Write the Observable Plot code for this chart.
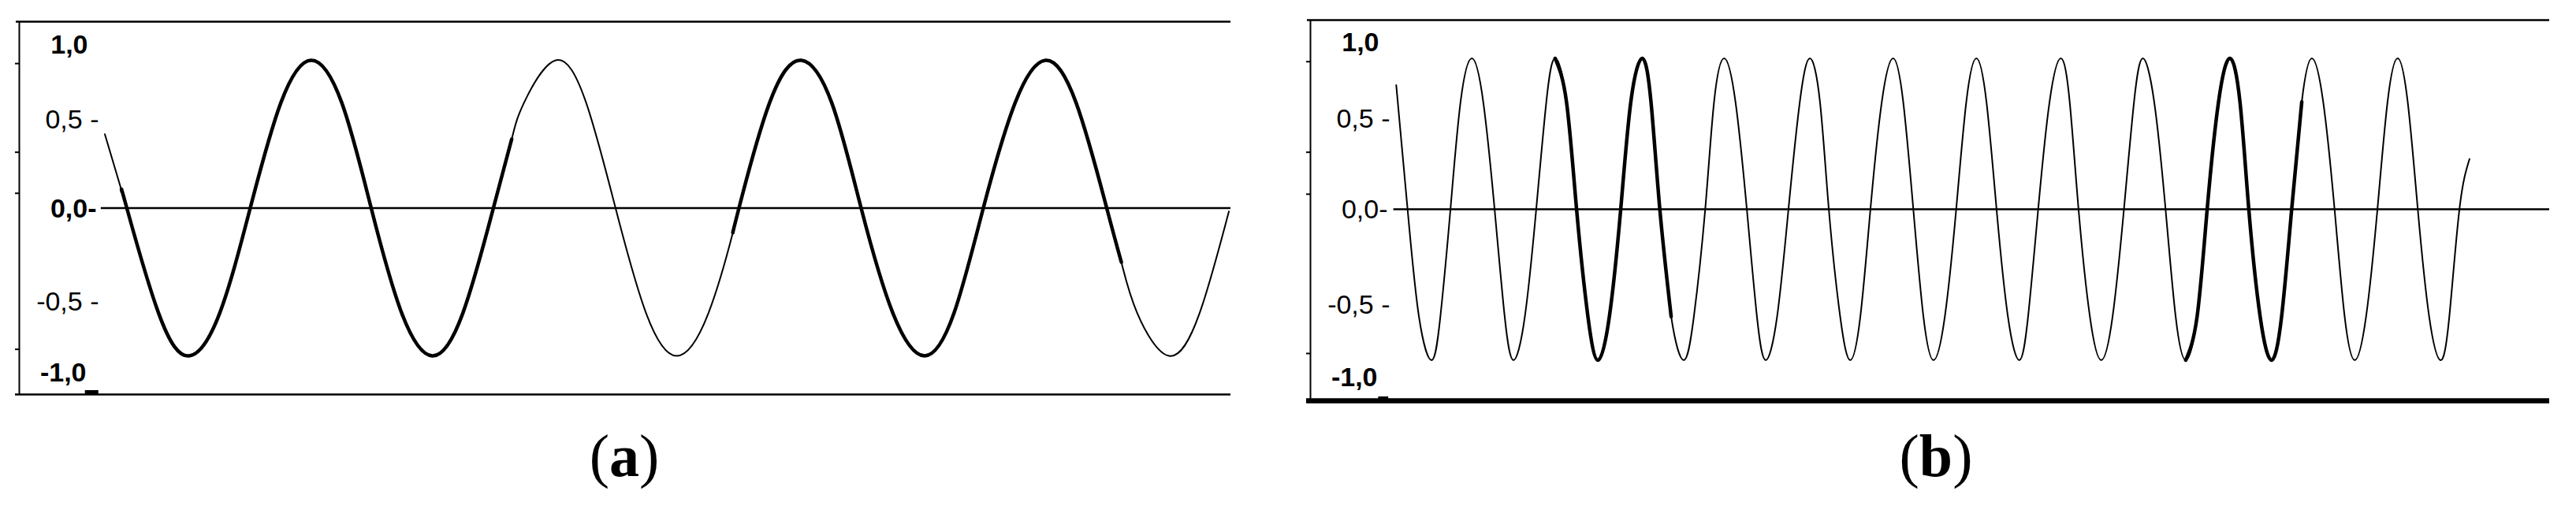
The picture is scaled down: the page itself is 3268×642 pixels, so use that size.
<!DOCTYPE html>
<html><head><meta charset="utf-8">
<script src="https://cdn.jsdelivr.net/npm/d3@7"></script>
<script src="https://cdn.jsdelivr.net/npm/@observablehq/plot@0.6"></script>
<style>
html,body{margin:0;padding:0;background:#fff;}
#root{position:relative;width:3268px;height:642px;overflow:hidden;background:#fff;}
.panel{position:absolute;top:0;}
.panel svg{display:block;max-width:none;}
.panel svg [aria-label="y-axis tick"]{stroke-width:2px;}
.cap{position:absolute;top:540px;font-family:"Liberation Serif","Times New Roman",serif;font-size:76px;line-height:76px;color:#000;white-space:nowrap;transform:translateX(-50%);}
</style></head>
<body><div id="root"></div>
<script>
// ---- data (time in ms, amplitude in relative units) ----
const waveA_t = [7.0, 8.4, 8.8, 11.4, 13.9, 16.4, 18.9, 21.4, 23.9, 26.4, 28.8, 31.3, 33.8, 36.3, 38.8, 40.3, 41.3, 43.9, 46.4, 48.8, 51.3, 53.8, 56.4, 58.4, 58.9, 61.4, 64.0, 66.5, 68.9, 71.5, 74.1, 76.5, 78.9, 81.5, 84.0, 86.5, 89.0, 90.2, 91.5, 94.1, 96.6, 99.0];
const waveA_v = [0.45, 0.10, 0, -0.64, -0.90, -0.64, 0, 0.64, 0.90, 0.64, 0, -0.64, -0.90, -0.64, 0, 0.42, 0.64, 0.90, 0.64, 0, -0.64, -0.90, -0.64, -0.15, 0, 0.64, 0.90, 0.64, 0, -0.64, -0.90, -0.64, 0, 0.64, 0.90, 0.64, 0, -0.33, -0.64, -0.90, -0.64, -0.02];
const thickA = [[8.4, 40.3], [58.4, 90.2]];

const waveB_t = [6.8, 7.7, 8.6, 9.6, 10.3, 11.1, 11.9, 12.8, 13.7, 14.6, 15.4, 16.1, 17.0, 17.9, 18.7, 19.4, 20.3, 21.1, 22.0, 22.8, 23.7, 24.6, 25.4, 26.3, 27.0, 27.7, 28.6, 29.6, 30.4, 31.3, 32.0, 32.8, 33.7, 34.6, 35.4, 36.1, 37.0, 37.9, 38.8, 39.6, 40.4, 41.1, 42.0, 42.8, 43.6, 44.4, 45.3, 46.2, 47.0, 47.8, 48.6, 49.4, 50.3, 51.2, 52.0, 52.8, 53.6, 54.4, 55.3, 56.2, 56.9, 57.7, 58.6, 59.5, 60.2, 60.9, 61.8, 62.7, 63.6, 64.5, 65.3, 66.0, 66.9, 67.8, 68.6, 69.4, 70.3, 71.1, 72.0, 72.9, 73.7, 74.4, 75.3, 76.2, 77.0, 77.8, 78.6, 79.4, 80.3, 81.2, 82.0, 82.8, 83.7, 84.6, 85.4, 86.2, 87.0, 87.8, 88.7, 89.6, 90.3, 91.1, 91.9, 92.8, 93.7, 94.6, 95.3, 96.1, 96.9, 97.8, 98.1];
const waveB_v = [0.74,
  0, -0.64, -0.9, -0.64, 0, 0.64, 0.9, 0.64,
  0, -0.64, -0.9, -0.64, 0, 0.64, 0.9, 0.64,
  0, -0.64, -0.9, -0.64, 0, 0.64, 0.9, 0.64,
  0, -0.64, -0.9, -0.64, 0, 0.64, 0.9, 0.64,
  0, -0.64, -0.9, -0.64, 0, 0.64, 0.9, 0.64,
  0, -0.64, -0.9, -0.64, 0, 0.64, 0.9, 0.64,
  0, -0.64, -0.9, -0.64, 0, 0.64, 0.9, 0.64,
  0, -0.64, -0.9, -0.64, 0, 0.64, 0.9, 0.64,
  0, -0.64, -0.9, -0.64, 0, 0.64, 0.9, 0.64,
  0, -0.64, -0.9, -0.64, 0, 0.64, 0.9, 0.64,
  0, -0.64, -0.9, -0.64, 0, 0.64, 0.9, 0.64,
  0, -0.64, -0.9, -0.64, 0, 0.64, 0.9, 0.64,
  0, -0.64, -0.9, -0.64, 0, 0.3];
const thickB = [[19.4, 28.6], [69.4, 78.6]];

const yLabelValues = [1, 0.5, 0, -0.5, -1];
const yLabelTexts = ["1,0", "0,5 -", "0,0-", "-0,5 -", "-1,0"];
const yAxisTicks = [0.88, 0.34, 0.09, -0.86];
const panelLetters = ["a", "b"];

// ---- rendering ----
function build(t, v) { return t.map((x, i) => ({t: x, v: v[i]})); }

const panels = [
  {t: waveA_t, v: waveA_v, thick: thickA, left: 0, width: 1580, height: 520,
   m: {top: 27, right: 19, bottom: 20, left: 24}, xDomain: [0, 99.16], yDomain: [-1.135, 1.135],
   bottomW: 2.5, zeroStart: 6.7, mark: [5.4, 6.5], bold: [true, false, true, false, true], capX: 792},
  {t: waveB_t, v: waveB_v, thick: thickB, left: 1600, width: 1668, height: 520,
   m: {top: 25, right: 34, bottom: 12, left: 62}, xDomain: [0, 98.25], yDomain: [-1.142, 1.128],
   bottomW: 6.5, zeroStart: 6.6, mark: [5.4, 6.2], bold: [true, false, false, false, true], capX: 2456}
];
const labelDx = [87, 101, 98, 101, 85];
const labelDy = [1, -8, 1, 15, 1];

const root = document.getElementById("root");
panels.forEach((p, k) => {
  const data = build(p.t, p.v);
  const [yMin, yMax] = p.yDomain;
  const marks = [
    Plot.ruleY([yMax], {strokeWidth: 2.5, insetLeft: -4}),
    Plot.ruleY([yMin], {strokeWidth: p.bottomW, insetLeft: -5}),
    Plot.ruleY([yMin], {x1: p.mark[0], x2: p.mark[1], strokeWidth: 5, dy: -3}),
    Plot.ruleX([0], {strokeWidth: 2}),
    Plot.ruleY([0], {x1: p.zeroStart, x2: p.xDomain[1], strokeWidth: 2.5}),
    Plot.line(data, {x: "t", y: "v", stroke: "black", strokeWidth: 2, curve: "natural"})
  ];
  p.thick.forEach(([a, b]) => {
    marks.push(Plot.line(data.filter(d => d.t >= a - 1e-9 && d.t <= b + 1e-9),
      {x: "t", y: "v", stroke: "black", strokeWidth: 4.5, curve: "natural"}));
  });
  yLabelValues.forEach((val, i) => {
    marks.push(Plot.text([val], {
      y: d => d, text: () => yLabelTexts[i], frameAnchor: "left", textAnchor: "end",
      dx: labelDx[i], dy: labelDy[i], fontSize: 34,
      fontFamily: "Liberation Sans, Arial, sans-serif",
      fontWeight: p.bold[i] ? "bold" : "normal", fill: "black"
    }));
  });
  const svg = Plot.plot({
    width: p.width, height: p.height,
    marginTop: p.m.top, marginRight: p.m.right, marginBottom: p.m.bottom, marginLeft: p.m.left,
    style: {background: "white", maxWidth: "none"},
    x: {domain: p.xDomain, axis: null},
    y: {domain: p.yDomain, ticks: yAxisTicks, tickSize: 5, tickFormat: () => "", label: null},
    marks
  });
  const div = document.createElement("div");
  div.className = "panel";
  div.style.left = p.left + "px";
  div.appendChild(svg);
  root.appendChild(div);
  const cap = document.createElement("div");
  cap.className = "cap";
  cap.style.left = p.capX + "px";
  cap.innerHTML = "(<b>" + panelLetters[k] + "</b>)";
  root.appendChild(cap);
});
</script>
</body></html>
